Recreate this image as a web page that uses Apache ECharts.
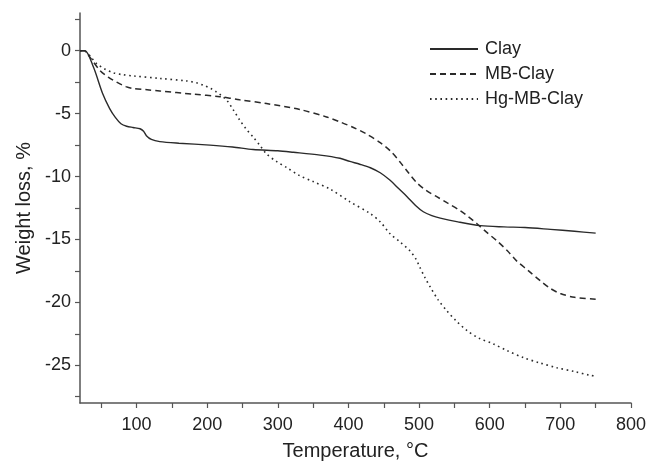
<!DOCTYPE html>
<html>
<head>
<meta charset="utf-8">
<script src="https://cdn.jsdelivr.net/npm/echarts@6/dist/echarts.min.js"></script>
<style>
  html, body { margin: 0; padding: 0; background: #fff; }
  #main { width: 648px; height: 461px; }
</style>
</head>
<body>
<div id="main"></div>
<script>
// TGA curves (temperature in °C, weight loss in %)
const clayT = [20, 27, 39, 52, 62, 70, 78, 86, 95, 105, 110, 114, 121, 133, 160, 204, 236, 265, 300, 322, 360, 388, 402, 416, 431, 445, 459, 471, 483, 495, 506, 518, 530, 555, 587, 620, 650, 686, 720, 750];
const clayW = [0, 0, -1.3, -3.4, -4.6, -5.3, -5.8, -6.0, -6.1, -6.2, -6.4, -6.75, -7.05, -7.22, -7.35, -7.5, -7.65, -7.85, -7.95, -8.07, -8.3, -8.55, -8.8, -9.02, -9.3, -9.7, -10.3, -10.95, -11.6, -12.3, -12.8, -13.1, -13.3, -13.6, -13.9, -14.0, -14.05, -14.2, -14.35, -14.5];

const mbT = [20, 26, 35, 48, 60, 72, 85, 95, 115, 133, 180, 218, 246, 284, 331, 369, 390, 407, 425, 445, 460, 473, 485, 497, 510, 525, 540, 558, 570, 582, 595, 610, 625, 638, 655, 672, 686, 700, 720, 750];
const mbW = [0, 0, -0.6, -1.55, -2.1, -2.5, -2.85, -3.0, -3.1, -3.2, -3.45, -3.65, -3.9, -4.2, -4.67, -5.26, -5.7, -6.1, -6.6, -7.3, -8.0, -8.84, -9.7, -10.5, -11.1, -11.6, -12.1, -12.7, -13.2, -13.75, -14.4, -15.1, -15.9, -16.7, -17.5, -18.3, -18.9, -19.3, -19.6, -19.75];

const hgT = [20, 29, 36, 43, 55, 67, 80, 95, 133, 171, 185, 195, 205, 213, 220, 228, 237, 246, 255, 265, 275, 284, 298, 313, 330, 350, 374, 402, 431, 445, 459, 473, 487, 495, 501, 508, 516, 527, 539, 553, 568, 585, 605, 625, 648, 670, 695, 720, 742, 750];
const hgW = [0, -0.1, -0.55, -1.0, -1.45, -1.75, -1.9, -2.0, -2.2, -2.4, -2.55, -2.75, -3.0, -3.27, -3.55, -3.95, -4.7, -5.5, -6.2, -6.85, -7.55, -8.2, -8.8, -9.3, -9.9, -10.4, -11.0, -12.0, -12.95, -13.6, -14.55, -15.2, -15.9, -16.5, -17.2, -18.0, -18.8, -19.8, -20.65, -21.5, -22.25, -22.85, -23.3, -23.85, -24.4, -24.8, -25.2, -25.5, -25.8, -25.85];

// axis ticks / labels
const xLabels = [100, 200, 300, 400, 500, 600, 700, 800];
const xTicks = [50, 100, 150, 200, 250, 300, 350, 400, 450, 500, 550, 600, 650, 700, 750, 800];
const yLabels = [0, -5, -10, -15, -20, -25];
const yTicks = [2.5, 0, -2.5, -5, -7.5, -10, -12.5, -15, -17.5, -20, -22.5, -25, -27.5];

const zip = (a, b) => a.map((v, i) => [v, b[i]]);

const font = '"Liberation Sans", Arial, sans-serif';
const ink = '#222';
const axisGrey = '#555';
const lineCol = '#2a2a2a';

const chart = echarts.init(document.getElementById('main'));

chart.setOption({
  animation: false,
  backgroundColor: '#fff',
  textStyle: { fontFamily: font, color: ink },
  grid: { left: 80, right: 17, top: 13, bottom: 58, containLabel: false, outerBoundsMode: 'none' },
  legend: {
    orient: 'vertical',
    left: 424,
    top: 35,
    itemWidth: 48,
    itemHeight: 14,
    itemGap: 7,
    itemStyle: { color: 'transparent', borderColor: 'transparent', borderWidth: 0 },
    textStyle: { fontFamily: font, fontSize: 18, lineHeight: 18, color: ink, padding: [0, 0, 0, 2] },
    data: ['Clay', 'MB-Clay', 'Hg-MB-Clay']
  },
  xAxis: {
    type: 'value',
    min: 20,
    max: 800,
    name: 'Temperature, °C',
    nameLocation: 'middle',
    nameGap: 38,
    nameTextStyle: { fontFamily: font, fontSize: 20, color: ink },
    splitLine: { show: false },
    axisLine: { show: true, onZero: false, lineStyle: { color: axisGrey, width: 1.5 } },
    axisTick: { show: true, length: 5, customValues: xTicks, lineStyle: { color: axisGrey, width: 1.2 } },
    axisLabel: { customValues: xLabels, fontSize: 18, color: ink, margin: 13 }
  },
  yAxis: {
    type: 'value',
    min: -28,
    max: 3,
    name: 'Weight loss, %',
    nameLocation: 'middle',
    nameRotate: 90,
    nameGap: 45,
    nameTextStyle: { fontFamily: font, fontSize: 20, color: ink },
    splitLine: { show: false },
    axisLine: { show: true, onZero: false, lineStyle: { color: axisGrey, width: 1.5 } },
    axisTick: { show: true, length: 5, customValues: yTicks, lineStyle: { color: axisGrey, width: 1.2 } },
    axisLabel: { customValues: yLabels, fontSize: 18, color: ink, margin: 9 }
  },
  series: [
    {
      name: 'Clay',
      type: 'line',
      data: zip(clayT, clayW),
      smooth: 0.3,
      symbol: 'none',
      lineStyle: { color: lineCol, width: 1.4, type: 'solid' },
      itemStyle: { color: lineCol }
    },
    {
      name: 'MB-Clay',
      type: 'line',
      data: zip(mbT, mbW),
      smooth: 0.3,
      symbol: 'none',
      lineStyle: { color: lineCol, width: 1.5, type: [6, 4] },
      itemStyle: { color: lineCol }
    },
    {
      name: 'Hg-MB-Clay',
      type: 'line',
      data: zip(hgT, hgW),
      smooth: 0.3,
      symbol: 'none',
      lineStyle: { color: lineCol, width: 1.6, type: [1.6, 3.6] },
      itemStyle: { color: lineCol }
    }
  ]
});
</script>
</body>
</html>
